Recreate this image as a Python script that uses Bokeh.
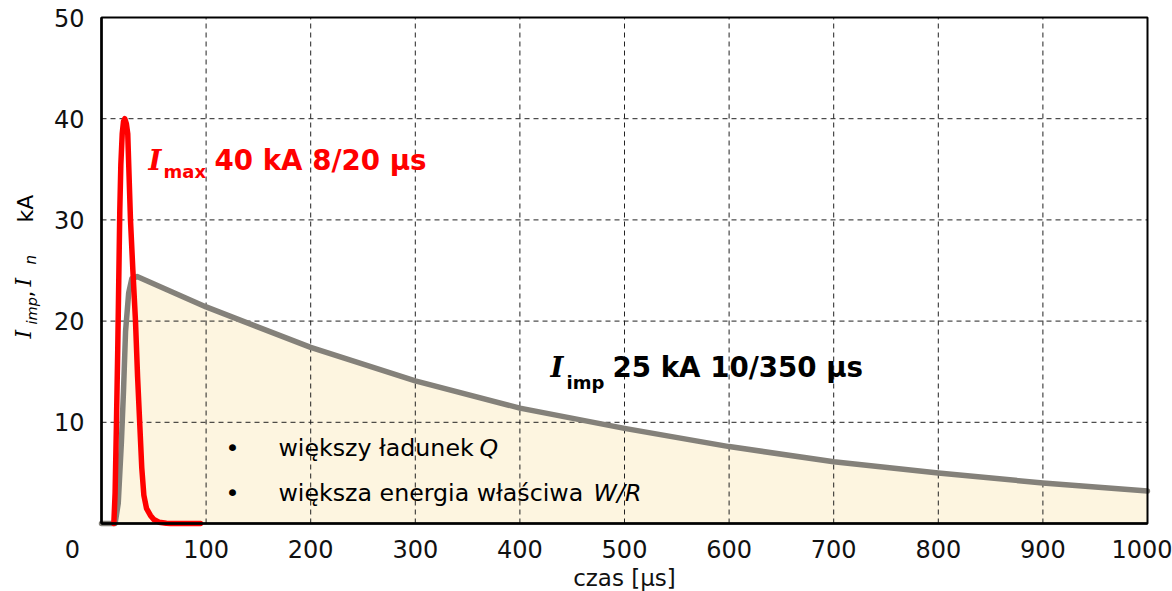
import math
from bokeh.plotting import figure
from bokeh.models import Range1d, FixedTicker, Label, LinearAxis
from bokeh.embed import file_html
from bokeh.resources import INLINE

# ---- data ----
imp_t = [0, 13, 16, 19, 21, 23, 26, 29, 34, 100, 200, 300, 400, 500, 600, 700, 800, 900, 1000]
imp_i = [0, 0, 2, 8, 13, 19, 22.8, 24.2, 24.4, 21.4, 17.4, 14.1, 11.4, 9.4, 7.6, 6.1, 5.0, 4.0, 3.2]

max_t = [11.8, 13, 14.3, 15.5, 16.5, 17.5, 18.5, 19.8, 21, 22.3, 23.8, 25.1, 26.1, 27.7, 30, 32.5,
         34.5, 36.5, 38.5, 40.5, 43, 46.8, 50, 55, 62, 66, 94.6]
max_i = [0, 3, 10, 17, 24, 31, 35.5, 38.5, 39.7, 40, 39.5, 38.5, 35.2, 30, 25, 20,
         14.5, 10, 5.5, 2.8, 1.5, 0.8, 0.4, 0.13, 0.02, 0, 0]

x_ticks = [0, 100, 200, 300, 400, 500, 600, 700, 800, 900, 1000]
y_ticks = [0, 10, 20, 30, 40, 50]
x_lim = [0, 1000]
y_lim = [0, 50]

FONT = "DejaVu Sans"
SERIF = "DejaVu Serif"

# canvas geometry: plot area spans px 101..1147 (x) and 17..523 (y)
W, H = 1172, 591
L, R, T, B = 101, 1147, 17, 523
sx = (R - L) / (x_lim[1] - x_lim[0])
sy = (B - T) / (y_lim[1] - y_lim[0])

def px2x(px):
    return x_lim[0] + (px - L) / sx

def py2y(py):
    return y_lim[0] + (B - py) / sy

p = figure(width=W, height=H, title=None,
           x_range=Range1d(px2x(0), px2x(W)), y_range=Range1d(py2y(H), py2y(0)),
           x_axis_type=None, y_axis_type=None,
           output_backend="svg", toolbar_location=None,
           min_border_left=0, min_border_right=0, min_border_top=0, min_border_bottom=0)
p.outline_line_color = None
p.background_fill_color = "white"
p.border_fill_color = "white"
p.xgrid.visible = False
p.ygrid.visible = False

# fill under 10/350 curve (lowest)
area = p.varea(x=imp_t, y1=[0] * len(imp_t), y2=imp_i, fill_color="#fdf5e0")
area.level = "image"

# dashed grid from tick lists
gx = p.segment(x0=x_ticks[1:-1], y0=[y_lim[0]] * 9, x1=x_ticks[1:-1], y1=[y_lim[1]] * 9,
               line_color="#222222", line_dash="5 4", line_width=1)
gy = p.segment(x0=[x_lim[0]] * 4, y0=y_ticks[1:-1], x1=[x_lim[1]] * 4, y1=y_ticks[1:-1],
               line_color="#222222", line_dash="5 4", line_width=1)
gx.level = "underlay"
gy.level = "underlay"

# curves
p.line(imp_t, imp_i, line_color="#84817a", line_width=5.5, line_join="round", line_cap="round")
p.line(max_t, max_i, line_color="#ff0000", line_width=5.5, line_join="round", line_cap="round")

# plot-area border
p.quad(left=[x_lim[0]], right=[x_lim[1]], bottom=[y_lim[0]], top=[y_lim[1]],
       fill_color=None, line_color="black", line_width=2)

# axes fixed at the plot-area edges
xa = LinearAxis(fixed_location=0, bounds=(0, 1000), ticker=FixedTicker(ticks=x_ticks))
ya = LinearAxis(fixed_location=0, bounds=(0, 50), ticker=FixedTicker(ticks=y_ticks))
for ax in (xa, ya):
    ax.major_label_overrides = {0: ""}
    ax.major_tick_line_color = None
    ax.minor_tick_line_color = None
    ax.axis_line_color = "black"
    ax.axis_line_width = 2.5
    ax.major_label_text_font = FONT
    ax.major_label_text_font_size = "24px"
    ax.major_label_text_color = "#111111"
xa.major_label_standoff = 10
ya.major_label_standoff = 11
xa.axis_label = "czas [µs]"
xa.axis_label_text_font = FONT
xa.axis_label_text_font_size = "23px"
xa.axis_label_text_font_style = "normal"
xa.axis_label_text_color = "#111111"
xa.axis_label_standoff = 4
p.add_layout(xa, "below")
p.add_layout(ya, "left")

SHIFT = 0.34  # baseline correction, in em

def lab(text, px, py, size, font=FONT, style="normal", color="#000000",
        align="left", baseline="alphabetic", angle=0.0):
    s = float(size.replace("px", ""))
    if baseline == "alphabetic":
        if angle:
            px = px - SHIFT * s
        else:
            py = py - SHIFT * s
    p.add_layout(Label(x=px2x(px), y=py2y(py), text=text, text_font=font,
                       text_font_size=size, text_font_style=style, text_color=color,
                       text_align=align, text_baseline=baseline, angle=angle))

# corner zero
lab("0", 72, 548, "24px", align="center", baseline="middle", color="#111111")

# I_max annotation (red)
RED = "#ff0000"
lab("I", 148, 169.5, "27.7px", font=SERIF, style="bold italic", color=RED)
lab("max", 163, 177, "18px", style="bold", color=RED)
lab("40 kA 8/20 µs", 214, 169.5, "27.7px", style="bold", color=RED)

# I_imp annotation (black)
lab("I", 550, 376.7, "27.7px", font=SERIF, style="bold italic")
lab("imp", 566, 388, "18px", style="bold")
lab("25 kA 10/350 µs", 612, 376.7, "27.7px", style="bold")

# bullet lines
lab("•", 232, 456, "23.7px", align="center")
lab("większy ładunek", 278, 456, "23.7px")
lab("Q", 479, 456, "23.7px", style="italic")
lab("•", 232, 501, "23.7px", align="center")
lab("większa energia właściwa", 278, 501, "23.7px")
lab("W/R", 593, 501, "23.7px", style="italic")

# rotated y-axis label: I_imp, I_n   kA
A = math.pi / 2
lab("I", 30, 338, "22px", font=SERIF, style="italic", angle=A)
lab("imp", 36, 324, "14.5px", style="italic", angle=A)
lab(",", 32, 297, "22px", angle=A)
lab("I", 30, 286, "22px", font=SERIF, style="italic", angle=A)
lab("n", 36, 264, "15px", style="italic", angle=A)
lab("kA", 32, 222, "22px", angle=A)

open("out.html", "w").write(file_html(p, INLINE))
